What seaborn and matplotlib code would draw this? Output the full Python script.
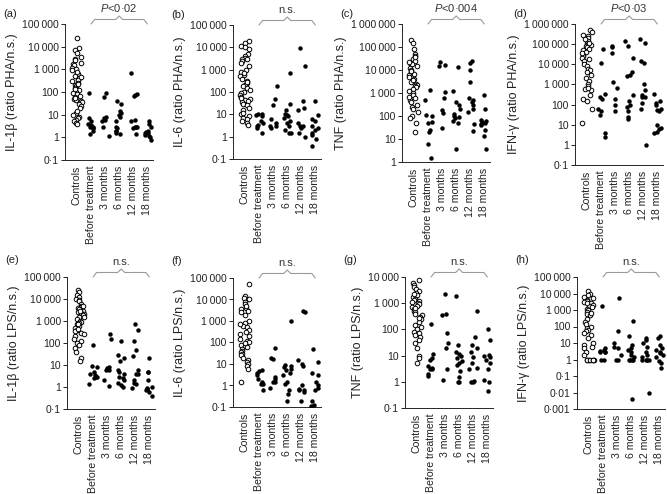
import numpy as np
import pandas as pd
import matplotlib
matplotlib.use("Agg")
import matplotlib.pyplot as plt
import matplotlib.transforms as mtransforms
import seaborn as sns

groups = ["Controls", "Before treatment", "3 months", "6 months", "12 months", "18 months"]

# valores (ratio estimulado / n.s.)
a_ctrl = [25000, 9000, 7000, 5000, 3500, 2000, 1800, 1500, 1200, 1000, 900, 700, 600, 500, 400, 350,
          300, 250, 200, 180, 150, 120, 100, 90, 80, 70, 60, 50, 45, 40, 35, 30, 25, 20, 12, 10, 8,
          7, 6, 5, 4.5, 4, 3000, 2500, 800, 450, 220, 130, 55, 15]
a_before = [90, 7, 5, 4, 3.5, 3, 2.8, 2.5, 2.5, 2, 1.4]
a_3m = [95, 60, 8, 7, 6, 5, 3, 1.1]
a_6m = [40, 30, 15, 12, 10, 8, 5, 3, 2.5, 2, 2, 1.6, 1.4]
a_12m = [700, 80, 75, 70, 6, 5, 3, 3, 2.8, 2.5, 1.4]
a_18m = [5, 4, 3, 2, 1.8, 1.6, 1.5, 1.3, 1.2, 1, 0.8]

b_ctrl = [20000, 15000, 12000, 10000, 8000, 5000, 4000, 3500, 3000, 2500, 2000, 1500, 1000, 800,
          600, 500, 400, 300, 250, 200, 180, 150, 120, 100, 90, 70, 60, 50, 45, 40, 35, 30, 25, 20,
          15, 10, 8, 7, 6, 5, 4, 3.5, 3000, 700, 280, 55, 12]
b_before = [10, 10, 9, 8, 5, 4, 3.5, 3, 2.5, 1.5]
b_3m = [180, 50, 25, 6, 4, 3, 3, 2.5]
b_6m = [700, 30, 15, 10, 9, 8, 7, 5, 4, 3, 2, 1.5, 1.5]
b_12m = [9500, 1500, 40, 20, 15, 4, 3, 3, 2.5, 1.4, 1]
b_18m = [40, 9, 6, 5, 3, 2.5, 2, 1.5, 1.2, 0.8, 0.4]

c_ctrl = [200000, 150000, 80000, 50000, 40000, 30000, 25000, 20000, 18000, 15000, 12000, 10000,
          8000, 7000, 6000, 5000, 4000, 3000, 2500, 2200, 2000, 1800, 1500, 1200, 1000, 800, 600,
          500, 400, 300, 250, 200, 150, 100, 80, 50, 20, 35000, 22000, 3500, 700, 9000]
c_before = [1300, 500, 110, 100, 55, 50, 25, 20, 6, 1.5]
c_3m = [22000, 16000, 15000, 1100, 600, 180, 130, 30]
c_6m = [13000, 1200, 400, 300, 200, 120, 100, 90, 80, 60, 50, 3.5]
c_12m = [25000, 20000, 10000, 3000, 600, 500, 400, 300, 200, 150, 45, 22]
c_18m = [800, 200, 70, 60, 55, 50, 45, 40, 25, 14, 3.5]

d_ctrl = [500000, 400000, 300000, 250000, 200000, 150000, 120000, 100000, 90000, 80000, 70000,
          60000, 50000, 40000, 30000, 25000, 20000, 15000, 10000, 8000, 6000, 5000, 4000, 3000,
          2000, 1500, 1000, 800, 600, 500, 300, 200, 150, 60, 12, 180000, 110000, 35000, 18000, 700]
d_before = [60000, 11000, 350, 250, 180, 60, 50, 30, 4, 2.5]
d_3m = [80000, 75000, 35000, 1300, 700, 200, 90, 50]
d_6m = [150000, 80000, 20000, 4000, 3000, 2500, 300, 150, 90, 80, 50, 25, 20]
d_12m = [180000, 120000, 15000, 12000, 1000, 500, 300, 250, 250, 120, 60, 1]
d_18m = [350, 150, 120, 90, 60, 55, 50, 10, 7, 6, 4.5, 4]

e_ctrl = [25000, 20000, 15000, 12000, 10000, 9000, 8000, 6000, 5000, 4500, 4000, 3500, 3000,
          2500, 2200, 2000, 1800, 1500, 1200, 1000, 900, 800, 700, 600, 500, 400, 350, 300, 250,
          200, 150, 120, 100, 80, 60, 40, 20, 15, 5000, 1600, 700, 2800, 450]
e_before = [80, 9, 8, 5, 4, 3.5, 3, 3, 2.5, 1.4]
e_3m = [250, 150, 8, 7, 6, 6, 2, 1.1]
e_6m = [120, 30, 20, 15, 6, 5, 4, 3, 2.5, 2, 1.5, 1.2, 1]
e_12m = [700, 400, 120, 50, 25, 6, 4, 4, 2, 1.5, 1.4, 0.9]
e_18m = [20, 5, 5, 2, 1, 0.9, 0.8, 0.8, 0.7, 0.6, 0.4]

f_ctrl = [50000, 15000, 12000, 10000, 8000, 6000, 4000, 3500, 3000, 2500, 2000, 1000, 800, 600,
          500, 400, 300, 250, 200, 150, 120, 100, 80, 70, 60, 50, 40, 35, 30, 25, 20, 15, 12, 10,
          8, 6, 1.5, 5000, 700, 90]
f_before = [5, 4.5, 4, 3, 2, 1.5, 1.2, 1.2, 0.6]
f_3m = [55, 20, 18, 2.5, 2, 1.5, 1.4, 0.8]
f_6m = [1000, 9, 8, 7, 6, 5, 4, 3, 1.5, 1.2, 0.6, 0.4, 0.2]
f_12m = [3000, 2500, 15, 10, 8, 1, 0.7, 0.6, 0.6, 0.5, 0.2]
f_18m = [50, 12, 4, 3, 1.5, 1, 0.8, 0.6, 0.2, 0.12, 0.11]

g_ctrl = [8000, 6000, 5000, 4000, 3500, 3000, 2500, 2000, 1800, 1500, 1300, 1200, 1100, 1000,
          900, 800, 700, 600, 500, 450, 400, 350, 300, 250, 200, 150, 120, 100, 80, 70, 60, 50,
          40, 30, 20, 10, 8, 5, 2200, 650, 280]
g_before = [160, 12, 8, 7, 4, 3.5, 3, 3, 2, 1.6]
g_3m = [2200, 400, 350, 70, 30, 20, 3, 1.2]
g_6m = [1900, 25, 14, 12, 10, 8, 6, 5, 4.5, 2.5, 1.5, 1, 1]
g_12m = [500, 50, 25, 20, 14, 9, 5, 3.5, 3, 1.1, 1, 1]
g_18m = [100, 40, 11, 10, 9, 7, 5, 3, 1.2, 1, 0.45]

h_ctrl = [15000, 10000, 8000, 6000, 5000, 4000, 3500, 3000, 2500, 2000, 1800, 1500, 1200, 1000,
          800, 600, 500, 300, 200, 100, 80, 60, 50, 40, 30, 20, 10, 8, 6, 5, 3, 2, 1, 1, 1, 1, 1,
          1, 1, 2500, 700, 150]
h_before = [1800, 5, 4, 3.5, 3, 3, 3, 1, 0.9]
h_3m = [5000, 50, 10, 6, 5, 2, 1, 1]
h_6m = [220, 25, 8, 5, 4, 3, 2, 1.5, 1, 1, 1, 1, 0.004]
h_12m = [20, 15, 10, 6, 3, 2, 1.5, 1, 1, 1, 1, 0.01]
h_18m = [25, 20, 8, 5, 4, 3, 2.5, 2, 1.5, 0.8, 0.6, 0.3]

ylabels = ["IL-1β (ratio PHA/n.s.)", "IL-6 (ratio PHA/n.s.)", "TNF (ratio PHA/n.s.)",
           "IFN-γ (ratio PHA/n.s.)", "IL-1β (ratio LPS/n.s.)", "IL-6 (ratio LPS/n.s.)",
           "TNF (ratio LPS/n.s.)", "IFN-γ (ratio LPS/n.s.)"]
letters = ["(a)", "(b)", "(c)", "(d)", "(e)", "(f)", "(g)", "(h)"]
pvalues = ["P<0·02", "n.s.", "P<0·004", "P<0·03", "n.s.", "n.s.", "n.s.", "n.s."]
ylims_exp = [(-1, 5), (-1, 5), (0, 6), (-1, 6), (-1, 5), (-1, 5), (-1, 4), (-3, 5)]

panels = [
    [a_ctrl, a_before, a_3m, a_6m, a_12m, a_18m],
    [b_ctrl, b_before, b_3m, b_6m, b_12m, b_18m],
    [c_ctrl, c_before, c_3m, c_6m, c_12m, c_18m],
    [d_ctrl, d_before, d_3m, d_6m, d_12m, d_18m],
    [e_ctrl, e_before, e_3m, e_6m, e_12m, e_18m],
    [f_ctrl, f_before, f_3m, f_6m, f_12m, f_18m],
    [g_ctrl, g_before, g_3m, g_6m, g_12m, g_18m],
    [h_ctrl, h_before, h_3m, h_6m, h_12m, h_18m],
]

# posiciones de los ejes en pixeles (izq, arriba, abajo)
axes_px = [(65, 24, 160), (233, 25, 159), (402, 24, 162), (575, 24, 165),
           (67, 277, 409), (233, 278, 407), (405, 277, 408), (577, 277, 409)]
W, H = 667, 494
AX_W = 88


def tick_label(e):
    if e < 0:
        return "0·" + "0" * (-e - 1) + "1"
    s = f"{10 ** e:,}".replace(",", "\u2009")
    return s


def make_long(values):
    rows = []
    for g, vals in zip(groups, values):
        for v in vals:
            rows.append({"group": g, "value": v})
    return pd.DataFrame(rows)


def draw_brace(ax, text, height_px):
    # llave gris sobre los grupos de pacientes
    trans = mtransforms.blended_transform_factory(ax.transData, ax.transAxes)
    y0 = 1.0
    y1 = 1.0 + 4.5 / height_px
    y2 = 1.0 + 8.0 / height_px
    xs = [1, 1.25, 2.75, 3.0, 3.25, 4.75, 5]
    ys = [y0, y1, y1, y2, y1, y1, y0]
    ax.plot(xs, ys, color="#9a9a9a", lw=0.8, transform=trans, clip_on=False)
    ytxt = 1.0 + 12.0 / height_px
    if text.startswith("P"):
        label = r"$\it{P}$" + text[1:]
    else:
        label = text
    ax.text(3, ytxt, label, transform=trans, ha="center", va="baseline",
            fontsize=8, color="#333333")


sns.set_style("ticks")
plt.rcParams["font.family"] = ["Liberation Sans", "DejaVu Sans"]
plt.rcParams["mathtext.fontset"] = "custom"
plt.rcParams["mathtext.it"] = "Liberation Sans:italic"
np.random.seed(3)

fig = plt.figure(figsize=(W / 100, H / 100), dpi=100)

for i, values in enumerate(panels):
    left, top, bottom = axes_px[i]
    ax = fig.add_axes([left / W, 1 - bottom / H, AX_W / W, (bottom - top) / H])
    df = make_long(values)
    ctrl = df[df["group"] == "Controls"]
    pts = df[df["group"] != "Controls"]
    sns.stripplot(data=ctrl, x="group", y="value", order=groups, ax=ax, jitter=0.36,
                  color="white", edgecolor="black", linewidth=0.7, size=3.3, log_scale=True)
    sns.stripplot(data=pts, x="group", y="value", order=groups, ax=ax, jitter=0.28,
                  color="black", size=3.2, log_scale=True)

    lo, hi = ylims_exp[i]
    ax.set_ylim(10.0 ** lo, 10.0 ** hi)
    exps = list(range(lo, hi + 1))
    ax.set_yticks([10.0 ** e for e in exps])
    ax.set_yticklabels([tick_label(e) for e in exps])
    ax.yaxis.set_minor_locator(matplotlib.ticker.NullLocator())
    ax.set_xlim(-0.85, 5.4)
    ax.set_xticks(range(len(groups)))
    ax.set_xticklabels(groups, rotation=90)
    ax.tick_params(axis="x", length=0, labelsize=7.6, pad=4, colors="#222222")
    ax.tick_params(axis="y", length=3, width=0.7, labelsize=7.5, pad=1.5, colors="#222222")
    ax.set_xlabel("")
    ax.set_ylabel(ylabels[i], fontsize=9, color="#222222", labelpad=3)
    for sp in ["left", "bottom"]:
        ax.spines[sp].set_linewidth(0.7)
    sns.despine(ax=ax)

    draw_brace(ax, pvalues[i], bottom - top)
    dy = 10 if i < 4 else 17
    fig.text((left - 62) / W, 1 - (top - dy) / H,
             letters[i], fontsize=8, ha="left", va="center", color="#222222")

fig.savefig("out.png", dpi=100)
